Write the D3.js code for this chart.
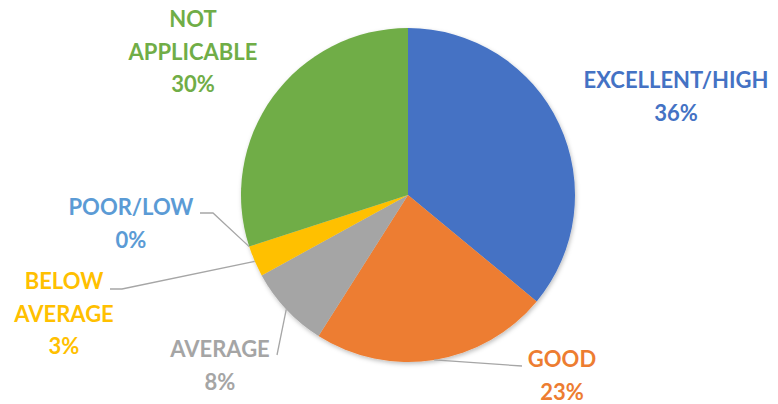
<!DOCTYPE html>
<html>
<head>
<meta charset="utf-8">
<script src="https://cdn.jsdelivr.net/npm/d3@7"></script>
<style>
  html, body { margin: 0; padding: 0; background: #fff; }
  svg text { font-family: Lato, "Open Sans", sans-serif; font-weight: 700; }
</style>
</head>
<body>
<svg id="chart" width="778" height="404"></svg>
<script>
// Rating categories and their share (%)
const categories = ["EXCELLENT/HIGH", "GOOD", "AVERAGE", "BELOW AVERAGE", "POOR/LOW", "NOT APPLICABLE"];
const values = [36, 23, 8, 3, 0, 30];
const colors = ["#4472C4", "#ED7D31", "#A5A5A5", "#FFC000", "#5B9BD5", "#70AD47"];

// Label text lines for each slice
const labelLines = [
  ["EXCELLENT/HIGH"],
  ["GOOD"],
  ["AVERAGE"],
  ["BELOW", "AVERAGE"],
  ["POOR/LOW"],
  ["NOT", "APPLICABLE"]
];

// Label placement: text centre x, first baseline y, and leader line knee (null = no leader)
const labelLayout = [
  { x: 676, y: 88,  knee: null },
  { x: 562, y: 367, knee: [522, 366] },
  { x: 220, y: 357, knee: [277, 355] },
  { x: 64,  y: 289, knee: [122, 289], tail: [110, 289] },
  { x: 131, y: 215, knee: [213, 213], tail: [200, 213] },
  { x: 193, y: 27,  knee: null }
];

const svg = d3.select("#chart");
const cx = 408, cy = 195, r = 167;
const lineH = 32.5;

const defs = svg.append("defs");
const f = defs.append("filter").attr("id", "shadow")
  .attr("x", "-10%").attr("y", "-10%").attr("width", "120%").attr("height", "120%");
f.append("feDropShadow").attr("dx", 1).attr("dy", 2).attr("stdDeviation", 2)
  .attr("flood-color", "#000").attr("flood-opacity", 0.25);

const pie = d3.pie().sort(null).value(d => d)(values);
const arc = d3.arc().innerRadius(0).outerRadius(r);

const g = svg.append("g").attr("transform", `translate(${cx},${cy})`);
g.append("g").attr("filter", "url(#shadow)")
  .selectAll("path").data(pie).join("path")
  .attr("d", arc)
  .attr("fill", (d, i) => colors[i]);

// Leader lines from slice edge to label
pie.forEach((d, i) => {
  const L = labelLayout[i];
  if (!L.knee) return;
  const a = (d.startAngle + d.endAngle) / 2;
  const p0 = [cx + r * Math.sin(a), cy - r * Math.cos(a)];
  const pts = [p0, L.knee];
  if (L.tail) pts.push(L.tail);
  svg.append("path")
    .attr("d", d3.line()(pts))
    .attr("fill", "none")
    .attr("stroke", "#A6A6A6")
    .attr("stroke-width", 1.3);
});

// Category and percentage labels
pie.forEach((d, i) => {
  const L = labelLayout[i];
  const lines = labelLines[i].concat([d3.format(".0f")(values[i]) + "%"]);
  const t = svg.append("text")
    .attr("text-anchor", "middle")
    .attr("fill", colors[i])
    .attr("font-size", 22);
  lines.forEach((s, k) => {
    t.append("tspan").attr("x", L.x).attr("y", L.y + k * lineH).text(s);
  });
});
</script>
</body>
</html>
